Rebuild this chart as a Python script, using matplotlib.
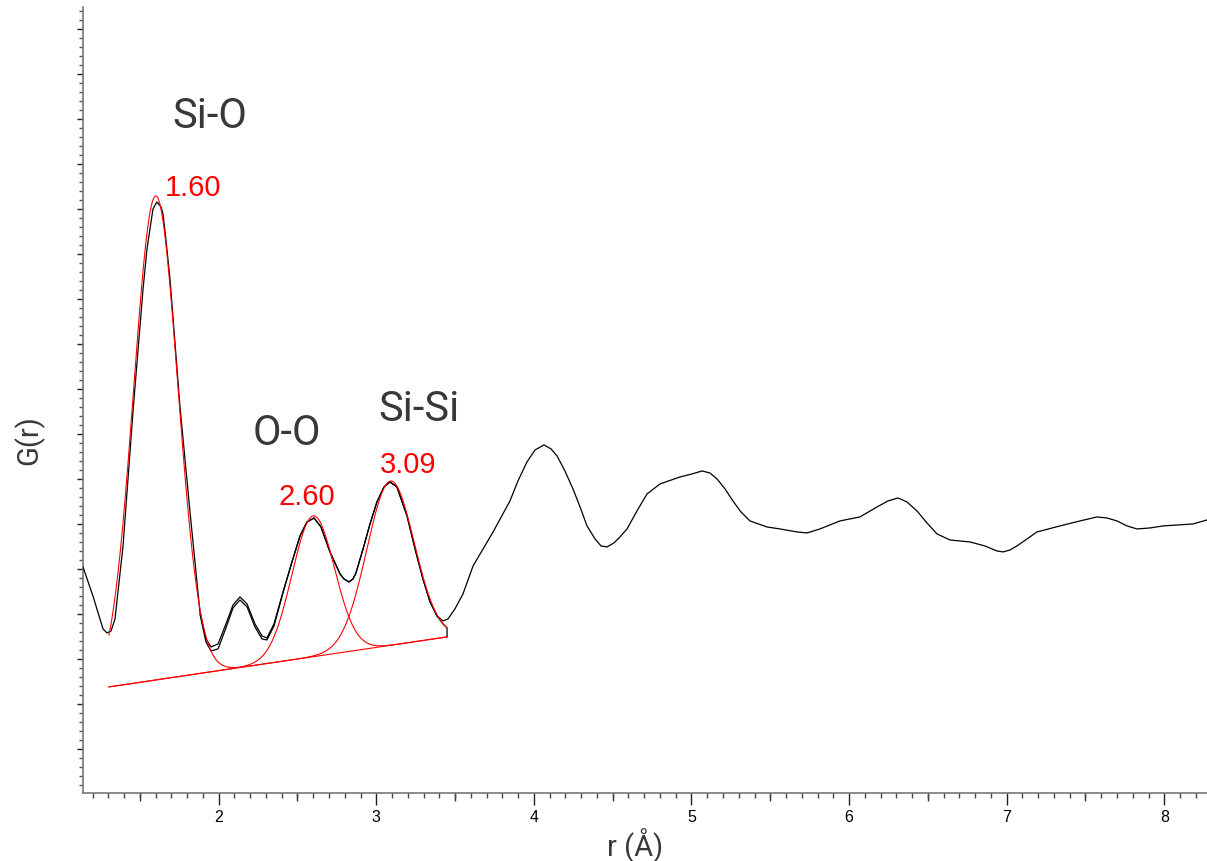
import matplotlib
matplotlib.use("Agg")
import matplotlib.pyplot as plt
import numpy as np
from matplotlib.ticker import MultipleLocator, FuncFormatter

# measured G(r) curve
r_data = [1.139, 1.202, 1.266, 1.291, 1.317, 1.342, 1.393, 1.456, 1.520, 1.545,
          1.564, 1.583, 1.608, 1.634, 1.647, 1.666, 1.691, 1.754, 1.818, 1.881,
          1.919, 1.951, 1.996, 2.046, 2.091, 2.135, 2.180, 2.230, 2.275, 2.306,
          2.351, 2.408, 2.465, 2.516, 2.560, 2.605, 2.649, 2.706, 2.770, 2.795,
          2.827, 2.852, 2.871, 2.916, 2.960, 3.004, 3.049, 3.087, 3.131, 3.195,
          3.246, 3.296, 3.341, 3.385, 3.423, 3.455, 3.499, 3.550, 3.614, 3.741,
          3.848, 3.899, 3.956, 4.007, 4.064, 4.109, 4.147, 4.197, 4.248, 4.293,
          4.337, 4.388, 4.426, 4.464, 4.508, 4.546, 4.591, 4.654, 4.718, 4.800,
          4.927, 5.003, 5.067, 5.117, 5.162, 5.213, 5.263, 5.314, 5.371, 5.479,
          5.562, 5.669, 5.733, 5.815, 5.942, 6.069, 6.177, 6.247, 6.310, 6.367,
          6.431, 6.494, 6.558, 6.640, 6.767, 6.862, 6.938, 6.977, 7.021, 7.065,
          7.129, 7.192, 7.338, 7.465, 7.573, 7.636, 7.700, 7.763, 7.827, 7.909,
          7.992, 8.182, 8.271]
g_data = [-0.956, -1.600, -2.333, -2.422, -2.378, -2.111, -0.489, 2.489, 5.222, 6.111,
          6.556, 7.000, 7.156, 7.044, 6.889, 6.289, 5.444, 2.622, 0.267, -1.956,
          -2.556, -2.733, -2.667, -2.222, -1.800, -1.622, -1.778, -2.222, -2.489, -2.533,
          -2.222, -1.511, -0.844, -0.267, 0.044, 0.133, -0.067, -0.622, -1.111, -1.222,
          -1.289, -1.222, -1.089, -0.556, 0.000, 0.489, 0.822, 0.933, 0.822, 0.178,
          -0.556, -1.222, -1.733, -2.044, -2.156, -2.111, -1.889, -1.556, -0.933, -0.178,
          0.511, 0.956, 1.378, 1.644, 1.756, 1.667, 1.511, 1.178, 0.778, 0.378,
          -0.044, -0.333, -0.489, -0.511, -0.422, -0.289, -0.111, 0.289, 0.667, 0.889,
          1.044, 1.111, 1.178, 1.133, 1.000, 0.778, 0.511, 0.267, 0.067, -0.067,
          -0.111, -0.178, -0.200, -0.111, 0.067, 0.156, 0.378, 0.511, 0.578, 0.489,
          0.289, 0.022, -0.222, -0.356, -0.400, -0.489, -0.600, -0.622, -0.578, -0.489,
          -0.333, -0.178, -0.044, 0.067, 0.156, 0.133, 0.067, -0.044, -0.111, -0.089,
          -0.044, 0.000, 0.089]

# second trace over the fitting window
r_fit = [1.881, 1.919, 1.951, 1.996, 2.046, 2.091, 2.135, 2.180, 2.230, 2.275,
         2.306, 2.351, 2.408, 2.465, 2.516, 2.560, 2.605, 2.649, 2.706, 2.770,
         2.795, 2.827, 2.852, 2.871, 2.916, 2.960, 3.004, 3.049, 3.087, 3.131,
         3.195, 3.246, 3.296, 3.341, 3.385, 3.423, 3.449, 3.449]
g_fit = [-2.000, -2.622, -2.822, -2.778, -2.311, -1.867, -1.689, -1.844, -2.289, -2.556,
         -2.578, -2.267, -1.533, -0.844, -0.267, 0.044, 0.133, -0.067, -0.622, -1.111,
         -1.222, -1.289, -1.222, -1.089, -0.556, 0.000, 0.489, 0.822, 0.933, 0.822,
         0.178, -0.556, -1.222, -1.733, -2.044, -2.222, -2.311, -2.511]

# linear background under the fitted peaks
bg_r = [1.304, 3.449]
bg_g = [-3.622, -2.511]

# gaussian peaks: centre, height above background, width
peak_names = ["Si-O", "O-O", "Si-Si"]
peak_pos = [1.60, 2.60, 3.09]
peak_height = [10.76, 3.13, 3.65]
peak_sigma = [0.14, 0.135, 0.15]

# label anchors (left edge / vertical centre)
name_xy = [(1.703, 9.07), (2.218, 2.04), (3.011, 2.56)]
value_xy = [(1.660, 7.49), (2.377, 0.62), (3.024, 1.33)]

fig = plt.figure(figsize=(12.07, 8.62), dpi=100)
ax = fig.add_axes([83 / 1207, 68 / 862, 1 - 83 / 1207, 786 / 862])

ax.plot(r_data, g_data, color="black", lw=0.9, zorder=3)
ax.plot(r_fit, g_fit, color="black", lw=0.9, zorder=3)

rr = np.linspace(bg_r[0], bg_r[1], 600)
base = np.interp(rr, bg_r, bg_g)
for pos, h, s in zip(peak_pos, peak_height, peak_sigma):
    ax.plot(rr, base + h * np.exp(-(rr - pos) ** 2 / (2 * s ** 2)),
            color="red", lw=0.8, zorder=4)

grey = "#383838"
for name, (x, y) in zip(peak_names, name_xy):
    ax.text(x, y, name, fontsize=30, color=grey, family="Roboto",
            ha="left", va="center")
for pos, (x, y) in zip(peak_pos, value_xy):
    ax.text(x, y, f"{pos:.2f}", fontsize=21, color="red",
            family="Liberation Sans", ha="left", va="center")

ax.set_xlim(1.139, 8.271)
ax.set_ylim(-5.98, 11.49)

for side in ("top", "right"):
    ax.spines[side].set_visible(False)
for side in ("left", "bottom"):
    ax.spines[side].set_color("#777777")
    ax.spines[side].set_linewidth(1.2)

ax.xaxis.set_major_locator(MultipleLocator(1))
ax.xaxis.set_minor_locator(MultipleLocator(0.1))
ax.yaxis.set_major_locator(MultipleLocator(1))
ax.yaxis.set_minor_locator(MultipleLocator(0.2))
ax.yaxis.set_major_formatter(FuncFormatter(lambda v, p: ""))
ax.tick_params(axis="x", which="major", length=8.6, width=1.0, color="#222222",
               labelsize=11.5, pad=3)
ax.tick_params(axis="x", which="minor", length=3.6, width=1.0, color="#444444")
ax.tick_params(axis="y", which="major", length=4.3, width=1.0, color="#222222")
ax.tick_params(axis="y", which="minor", length=2.9, width=1.0, color="#555555")
for lab in ax.get_xticklabels():
    lab.set_family("Liberation Sans")

# half-unit ticks
sec = ax.secondary_xaxis("bottom")
sec.set_xticks(np.arange(1.5, 8.5, 1.0))
sec.tick_params(length=5.8, width=1.0, color="#333333", labelbottom=False)
sec.spines["bottom"].set_visible(False)

fig.text(635 / 1207, 1 - 846 / 862, "r (Å)", fontsize=21, color=grey,
         family="Roboto", ha="center", va="center")
fig.text(29 / 1207, 1 - 440 / 862, "G(r)", fontsize=21, color=grey,
         family="Roboto", ha="center", va="center", rotation=90)

fig.savefig("out.png", dpi=100)
